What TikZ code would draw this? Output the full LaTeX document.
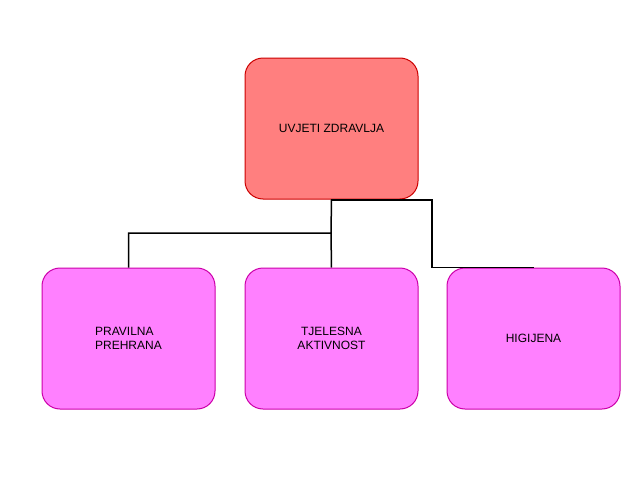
\documentclass[tikz,border=0pt]{standalone}
\usepackage{fontspec}
\setmainfont{Liberation Sans}
\begin{document}
\begin{tikzpicture}[x=1pt,y=-1pt,
 box/.style={draw,line width=1pt,rounded corners=18pt,minimum width=173pt,minimum height=141pt,font=\fontsize{12}{14}\selectfont,inner sep=0pt},
 topbox/.style={box,fill={rgb,255:red,255;green,127;blue,127},draw={rgb,255:red,204;green,0;blue,0}},
 subbox/.style={box,fill={rgb,255:red,255;green,128;blue,255},draw={rgb,255:red,204;green,0;blue,170}},
 conn/.style={line width=1.5pt,black}]
\useasboundingbox (0,0) rectangle (638,479);
\node[topbox] (top) at (331.5,128.5) {UVJETI ZDRAVLJA};
\node[subbox,align=left] (a) at (128.5,338.5) {PRAVILNA\\PREHRANA};
\node[subbox,align=center] (b) at (331.5,338.5) {TJELESNA\\AKTIVNOST};
\node[subbox] (c) at (533.5,338.5) {HIGIJENA};
\coordinate (j) at (331,233);
\coordinate (r) at (432,200);
\draw[conn] (top.south) -- (j) -| (a.north);
\draw[conn] (j) -- (b.north);
\draw[conn] (331,200) -- (r) |- (c.north);
\end{tikzpicture}
\end{document}
